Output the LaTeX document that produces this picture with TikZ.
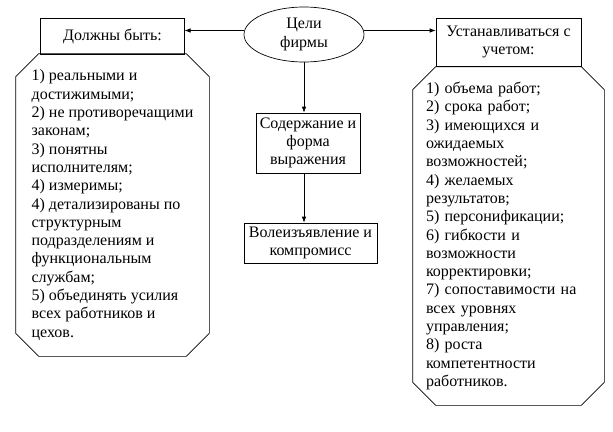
\documentclass[tikz,border=0pt]{standalone}
\usepackage{fontspec}
\setmainfont{Liberation Serif}
\usepackage{tikz}
\usetikzlibrary{arrows.meta, shapes.geometric}

\begin{document}
\begin{tikzpicture}[x=1pt, y=-1pt, line width=.7pt,
	txt/.style={font=\fontsize{16}{18.3}\selectfont, inner sep=0pt},
	box/.style={txt, draw, rectangle, align=center},
	listbox/.style={txt, rectangle, align=left},
	arr/.style={-{Latex[length=6pt,width=4.5pt]}}]
	\useasboundingbox (0,0) rectangle (613,431);
	\node[txt, draw, ellipse, align=center, minimum width=120pt, minimum height=55pt] (goal) at (304,34.5) {Цели\\фирмы};
	\node[box, minimum width=143.5pt, minimum height=36pt] (must) at (112.5,36) {Должны быть:};
	\node[box, minimum width=145pt, minimum height=48pt] (account) at (508.5,42) {Устанавливаться с\\учетом:};
	\node[box, minimum width=104pt, minimum height=60pt] (content) at (308,143) {Содержание и\\форма\\выражения};
	\node[box, minimum width=133pt, minimum height=40pt] (will) at (310.5,243) {Волеизъявление и\\компромисс};
	\node[listbox, minimum width=193pt, minimum height=302pt] (mustlist) at (112.5,205) {1) реальными и\\достижимыми;\\2) не противоречащими\\законам;\\3) понятны\\исполнителям;\\4) измеримы;\\4) детализированы по\\структурным\\подразделениям и\\функциональным\\службам;\\5) объединять усилия\\всех работников и\\цехов.};
	\node[listbox, text width=165pt, minimum width=191pt, minimum height=338pt] (accountlist) at (508.5,236) {1) объема работ;\\2) срока работ;\\3) имеющихся и\\ожидаемых\\возможностей;\\4) желаемых\\результатов;\\5) персонификации;\\6) гибкости и\\возможности\\корректировки;\\7) сопоставимости на\\всех уровнях\\управления;\\8) роста\\компетентности\\работников.};
	\foreach \l in {mustlist, accountlist}
	  \draw ([xshift=23pt]\l.north west) -- ([xshift=-23pt]\l.north east) -- ([yshift=-23pt]\l.north east)
	    -- ([yshift=23pt]\l.south east) -- ([xshift=-23pt]\l.south east) -- ([xshift=23pt]\l.south west)
	    -- ([yshift=23pt]\l.south west) -- ([yshift=-23pt]\l.north west) -- cycle;
	\draw[arr] ([yshift=4pt]goal.west) -- ([yshift=4pt]goal.west -| must.east);
	\draw[arr] ([yshift=4pt]goal.east) -- ([yshift=4pt]goal.east -| account.west);
	\draw[arr] (goal.south) -- (goal.south |- content.north);
	\draw[arr] (content.south -| goal.south) -- (goal.south |- will.north);
\end{tikzpicture}
\end{document}
